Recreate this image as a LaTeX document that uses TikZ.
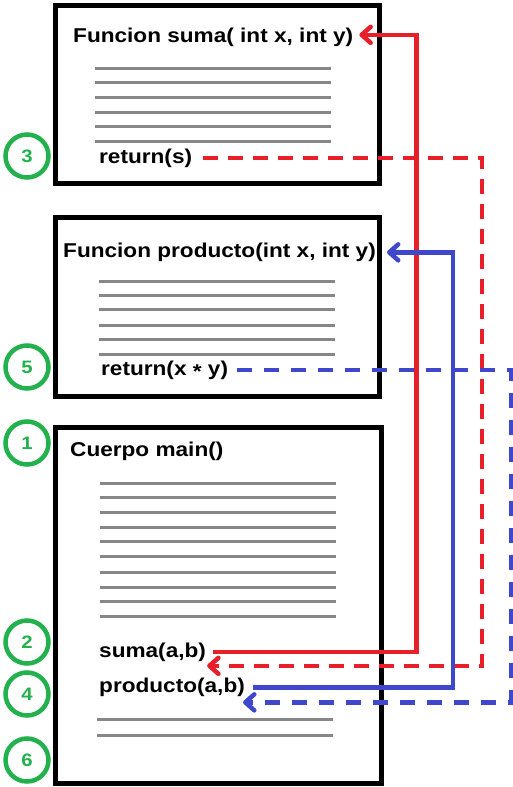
\documentclass[tikz,border=0pt]{standalone}
\usepackage{fontspec}
\setmainfont{Liberation Sans}
\newfontfamily\lbl[FakeStretch=1.13]{Liberation Sans}
\usetikzlibrary{arrows.meta}
\definecolor{cred}{RGB}{232,30,40}
\definecolor{cblue}{RGB}{63,72,204}
\definecolor{cgreen}{RGB}{34,177,76}
\definecolor{cgray}{RGB}{135,135,135}
\tikzset{
  x=1pt,y=-1pt,
  fbox/.style={draw=black,line width=5pt},
  txt/.style={anchor=base west,inner sep=0pt,font=\lbl\bfseries\fontsize{20}{24}\selectfont},
  gline/.style={draw=cgray,line width=3pt},
  numc/.style={circle,draw=cgreen,line width=4.5pt,minimum size=43pt,inner sep=0pt,text=cgreen,font=\lbl\bfseries\fontsize{18}{20}\selectfont},
  tip/.style={-{Straight Barb[length=9pt,width=16pt,line join=round,line cap=round]}},
  redsolid/.style={draw=cred,line width=4.5pt,tip},
  reddash/.style={draw=cred,line width=4.5pt,tip,dash pattern=on 15pt off 10pt},
  bluesolid/.style={draw=cblue,line width=4.5pt,tip},
  bluedash/.style={draw=cblue,line width=4.5pt,tip,dash pattern=on 15pt off 12pt},
}
\begin{document}
\begin{tikzpicture}
\useasboundingbox (0,0) rectangle (512,787);
\fill[white] (0,0) rectangle (512,787);
% boxes
\draw[fbox] (55.5,5.5) rectangle (379.5,183.5);
\draw[fbox] (55.5,217.5) rectangle (379.5,396.5);
\draw[fbox] (55.5,427.5) rectangle (381.5,783.5);
% gray lines
\foreach \y in {68,82,97,112,126,141} \draw[gline] (95,\y) -- (331,\y);
\foreach \y in {281,295,309,325,339,354} \draw[gline] (99,\y) -- (335,\y);
\foreach \y in {483,497,512,527,541,556,572,587,601,616} \draw[gline] (100,\y) -- (336,\y);
\foreach \y in {719,735} \draw[gline] (97,\y) -- (333,\y);
% texts
\node[txt] (tsuma) at (73,42.5) {Funcion suma( int x, int y)};
\node[txt] (rsuma) at (99,163) {return(s)};
\node[txt] (tprod) at (63,257.5) {Funcion producto(int x, int y)};
\node[txt] (rprod) at (101,375) {return(x \raisebox{-0.3ex}{*} y)};
\node[txt] (tmain) at (70,456) {Cuerpo main()};
\node[txt] (csuma) at (99,657) {suma(a,b)};
\node[txt] (cprod) at (99,692.5) {producto(a,b)};
% numbers
\node[numc] (n3) at (27,156) {3};
\node[numc] (n5) at (27,367) {5};
\node[numc] (n1) at (27,443) {1};
\node[numc] (n2) at (27,642) {2};
\node[numc] (n4) at (27,694) {4};
\node[numc] (n6) at (27,760) {6};
% connectors
\draw[redsolid] ([xshift=7pt]csuma.east) -| ([xshift=63pt,yshift=2.5pt]tsuma.east) -- ([xshift=6pt,yshift=2.5pt]tsuma.east);
\draw[reddash] ([xshift=11pt]rsuma.east) -| ([xshift=276pt,yshift=-14pt]csuma.east) -- ([xshift=1pt,yshift=-14pt]csuma.east);
\draw[bluesolid] ([xshift=8pt]cprod.east) -| ([xshift=77pt]tprod.east) -- ([xshift=11pt]tprod.east);
\draw[bluedash] ([xshift=9pt]rprod.east) -| ([xshift=266pt,yshift=-15pt]cprod.east) -- ([xshift=-2pt,yshift=-15pt]cprod.east);
\end{tikzpicture}
\end{document}
